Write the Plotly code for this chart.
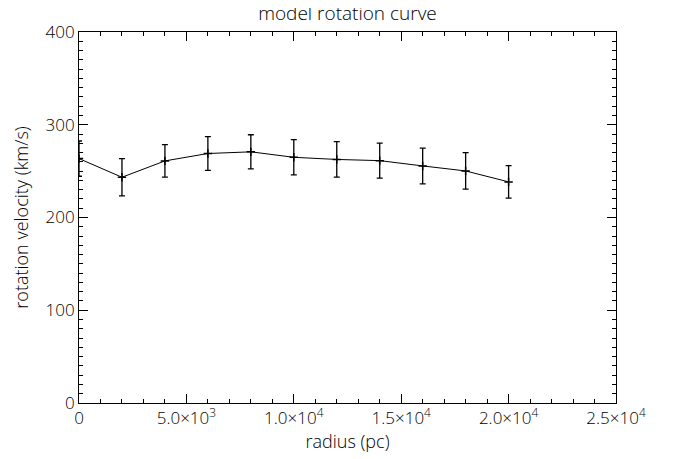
import plotly.graph_objects as go

radius_pc = [0, 2000, 4000, 6000, 8000, 10000, 12000, 14000, 16000, 18000, 20000]
velocity_kms = [263.5, 243.4, 261.0, 269.0, 270.8, 264.9, 262.6, 261.3, 255.6, 250.2, 238.4]
velocity_err = [19.0, 20.0, 17.5, 18.1, 18.4, 19.0, 19.1, 18.9, 19.3, 19.7, 17.5]

x_tickvals = [0, 5000, 10000, 15000, 20000, 25000]
x_ticktext = ["0", "5.0×10<sup>3</sup>", "1.0×10<sup>4</sup>", "1.5×10<sup>4</sup>",
              "2.0×10<sup>4</sup>", "2.5×10<sup>4</sup>"]
y_tickvals = [0, 100, 200, 300, 400]
y_ticktext = ["0", "100", "200", "300", "400"]

FONT = "Open Sans, DejaVu Sans, sans-serif"

fig = go.Figure()
fig.add_trace(go.Scatter(
    x=radius_pc, y=velocity_kms,
    mode="lines+markers",
    line=dict(color="black", width=1),
    marker=dict(symbol="cross-thin", size=6, line=dict(color="black", width=1.5)),
    error_y=dict(type="data", array=velocity_err, visible=True,
                 color="black", thickness=1.3, width=3),
    showlegend=False,
))

axis_common = dict(
    showgrid=False, zeroline=False, showline=True, linecolor="black", linewidth=1,
    mirror="allticks", ticks="inside", tickcolor="black", tickwidth=1,
    tickfont=dict(family=FONT, size=17, color="black", weight=300),
)

fig.update_xaxes(
    range=[0, 25000], tickmode="array", tickvals=x_tickvals, ticktext=x_ticktext,
    ticklen=9,
    minor=dict(dtick=1000, ticks="inside", ticklen=4, tickcolor="black", tickwidth=1),
    title=dict(text="radius (pc)", font=dict(family=FONT, size=18, color="black", weight=300),
               standoff=2),
    **axis_common,
)
fig.update_yaxes(
    range=[0, 400], tickmode="array", tickvals=y_tickvals, ticktext=y_ticktext,
    ticklen=9,
    minor=dict(dtick=10, ticks="inside", ticklen=4, tickcolor="black", tickwidth=1),
    title=dict(text="rotation velocity (km/s)", font=dict(family=FONT, size=18, color="black", weight=300),
               standoff=12),
    **axis_common,
)

fig.update_layout(
    width=677, height=459,
    margin=dict(l=71, r=69, t=22, b=64),
    paper_bgcolor="white", plot_bgcolor="white",
    title=dict(text="model rotation curve", x=0.5, xref="paper", xanchor="center",
               y=1 - 5 / 459, yref="container", yanchor="middle",
               font=dict(family=FONT, size=19, color="black", weight=300)),
)

fig.write_html("out.html")
